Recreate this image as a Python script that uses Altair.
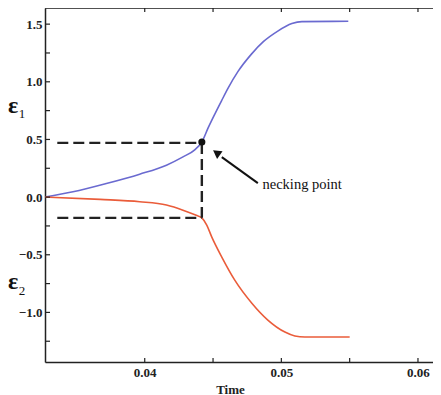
import altair as alt
import pandas as pd

# ---- data ----
eps1_time = [0.0327, 0.03475, 0.03719, 0.03963, 0.04159, 0.0428, 0.04366, 0.04418,
             0.04464, 0.04513, 0.04562, 0.0461, 0.04683, 0.04781, 0.0487, 0.04974,
             0.05077, 0.0515, 0.0549]
eps1_val = [0.0, 0.046, 0.118, 0.199, 0.277, 0.349, 0.41, 0.478,
            0.60, 0.72, 0.835, 0.945, 1.09, 1.24, 1.35, 1.44,
            1.505, 1.522, 1.525]

eps2_time = [0.0327, 0.03673, 0.03963, 0.04159, 0.0428, 0.04377, 0.04418,
             0.04454, 0.04491, 0.04564, 0.04659, 0.04784, 0.04901, 0.05026, 0.05099, 0.05172, 0.055]
eps2_val = [0.0, -0.02, -0.04, -0.069, -0.113, -0.158, -0.18,
            -0.243, -0.347, -0.52, -0.72, -0.92, -1.066, -1.17, -1.204, -1.213, -1.213]

neck_time = 0.04418
neck_eps1 = 0.47
neck_eps2 = -0.18
dash_start = 0.0336

y_tick_labels = [-1.0, -0.5, 0.0, 0.5, 1.0, 1.5]
y_minor = [-1.25, -1.0, -0.75, -0.5, -0.25, 0.0, 0.25, 0.5, 0.75, 1.0, 1.25, 1.5]
x_tick_labels = [0.04, 0.05, 0.06]
x_minor = [0.04, 0.045, 0.05, 0.055, 0.06]

W, H = 388, 354
XDOM = [0.0327, 0.0611]
YDOM = [-1.43, 1.64]
FONT = "Liberation Serif"

xs = alt.Scale(domain=XDOM, nice=False, zero=False)
ys = alt.Scale(domain=YDOM, nice=False, zero=False)

df1 = pd.DataFrame({"t": eps1_time, "v": eps1_val})
df2 = pd.DataFrame({"t": eps2_time, "v": eps2_val})

base_x = alt.X("t:Q", scale=xs,
               axis=alt.Axis(values=x_tick_labels, format=".2f", title="Time",
                             tickSize=0, labelPadding=4, labelFont=FONT,
                             labelFontSize=13, labelColor="#222", labelFontWeight="bold",
                             domainColor="#222", domainWidth=1.5, grid=False,
                             titleFont=FONT, titleFontSize=13, titleFontWeight="bold",
                             titleColor="#222", titleX=185, titleY=21, titleBaseline="top"))
base_y = alt.Y("v:Q", scale=ys,
               axis=alt.Axis(values=y_tick_labels, format=".1f", title=None,
                             tickSize=0, labelPadding=3, labelFont=FONT,
                             labelFontSize=13, labelColor="#222", labelFontWeight="bold",
                             domainColor="#222", domainWidth=1.5, grid=False))

line1 = alt.Chart(df1).mark_line(color="#6a6ad0", strokeWidth=1.6, interpolate="monotone").encode(
    x=base_x, y=base_y)
line2 = alt.Chart(df2).mark_line(color="#ea5c3a", strokeWidth=1.6, interpolate="monotone").encode(
    x=alt.X("t:Q", scale=xs), y=alt.Y("v:Q", scale=ys))

dash_df = pd.DataFrame({
    "x1": [dash_start, dash_start, neck_time],
    "x2": [neck_time, neck_time, neck_time],
    "y1": [neck_eps1, neck_eps2, neck_eps1],
    "y2": [neck_eps1, neck_eps2, neck_eps2],
})
dashes = alt.Chart(dash_df).mark_rule(color="#222", strokeWidth=2.4, strokeDash=[11, 5]).encode(
    x=alt.X("x1:Q", scale=xs), x2="x2:Q",
    y=alt.Y("y1:Q", scale=ys), y2="y2:Q")

pt = alt.Chart(pd.DataFrame({"t": [neck_time], "v": [0.478]})).mark_circle(
    color="#111", size=50, opacity=1).encode(
    x=alt.X("t:Q", scale=xs), y=alt.Y("v:Q", scale=ys))

arrow_df = pd.DataFrame({"x1": [0.04564], "x2": [0.04828], "y1": [0.347], "y2": [0.121]})
arrow_line = alt.Chart(arrow_df).mark_rule(color="#111", strokeWidth=2).encode(
    x=alt.X("x1:Q", scale=xs), x2="x2:Q", y=alt.Y("y1:Q", scale=ys), y2="y2:Q")
arrow_head = alt.Chart(pd.DataFrame({"t": [0.04525], "v": [0.385]})).mark_point(
    shape="triangle-up", filled=True, color="#111", size=90, angle=305, opacity=1).encode(
    x=alt.X("t:Q", scale=xs), y=alt.Y("v:Q", scale=ys))

label = alt.Chart(pd.DataFrame({"t": [0.04862], "v": [0.104], "s": ["necking point"]})).mark_text(
    align="left", baseline="middle", font=FONT, fontSize=14.5, color="#111").encode(
    x=alt.X("t:Q", scale=xs), y=alt.Y("v:Q", scale=ys), text="s:N")

# inward ticks
lt = alt.Chart(pd.DataFrame({"v": y_minor})).mark_rule(color="#222", strokeWidth=1.2).encode(
    y=alt.Y("v:Q", scale=ys), x=alt.value(0), x2=alt.value(5))
bt = alt.Chart(pd.DataFrame({"t": x_minor})).mark_rule(color="#222", strokeWidth=1.2).encode(
    x=alt.X("t:Q", scale=xs), y=alt.value(H), y2=alt.value(H - 4))
tt = alt.Chart(pd.DataFrame({"t": x_minor})).mark_rule(color="#222", strokeWidth=1.2).encode(
    x=alt.X("t:Q", scale=xs), y=alt.value(0), y2=alt.value(4))
top_line = alt.Chart(pd.DataFrame({"a": [0]})).mark_rule(color="#222", strokeWidth=1.5).encode(
    x=alt.value(0), x2=alt.value(W), y=alt.value(0))

# epsilon labels
eps_df = pd.DataFrame({"v": [0.79, -0.74], "s": ["ε", "ε"]})
eps = alt.Chart(eps_df).mark_text(font=FONT, fontSize=24, fontWeight="bold", color="#111",
                                  align="center", baseline="middle").encode(
    x=alt.value(-32), y=alt.Y("v:Q", scale=ys), text="s:N")
sub_df = pd.DataFrame({"v": [0.72, -0.81], "s": ["1", "2"]})
subs = alt.Chart(sub_df).mark_text(font=FONT, fontSize=13, color="#111",
                                   align="center", baseline="middle").encode(
    x=alt.value(-23), y=alt.Y("v:Q", scale=ys), text="s:N")

chart = alt.layer(line1, line2, dashes, pt, arrow_line, arrow_head, label,
                  lt, bt, tt, top_line, eps, subs).properties(
    width=W, height=H,
    autosize=alt.AutoSizeParams(type="none"),
    padding={"left": 37, "top": 0, "right": 0, "bottom": 33},
).configure_view(stroke=None).configure(background="white")

chart.save("out.html", embed_options={"renderer": "svg", "actions": False})
